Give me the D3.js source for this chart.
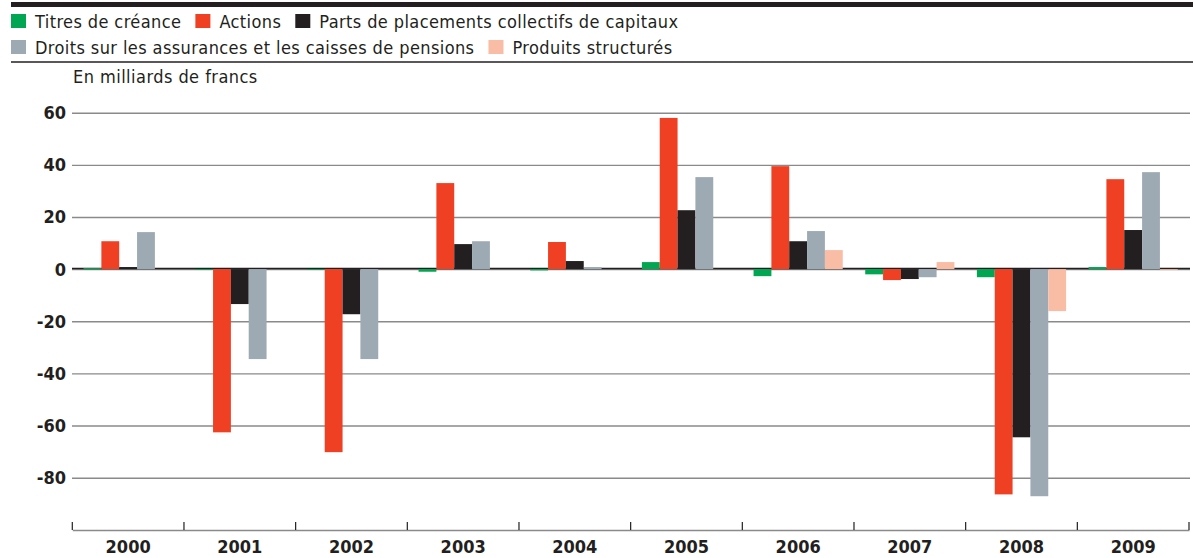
<!DOCTYPE html>
<html>
<head>
<meta charset="utf-8">
<script src="https://cdn.jsdelivr.net/npm/d3@7"></script>
<style>
  body { margin: 0; background: #fff; }
  text { font-family: "DejaVu Sans Condensed", "DejaVu Sans", sans-serif; font-stretch: condensed; fill: #231f20; }
  .lbl { letter-spacing: 0.4px; }
</style>
</head>
<body>
<svg id="chart"></svg>
<script>
// data (milliards de francs)
var years = ['2000', '2001', '2002', '2003', '2004', '2005', '2006', '2007', '2008', '2009'];
var seriesNames = ['Titres de créance', 'Actions', 'Parts de placements collectifs de capitaux',
  'Droits sur les assurances et les caisses de pensions', 'Produits structurés'];
var seriesColors = ['#00a651', '#ef4023', '#231f20', '#9eaab3', '#f9bca4'];
var titres = [0.4, -0.3, -0.3, -1.0, -0.5, 2.7, -2.7, -2.0, -3.1, 0.8];
var actions = [10.7, -62.6, -70.2, 33.0, 10.4, 58.0, 39.5, -4.2, -86.4, 34.5];
var parts = [0.8, -13.4, -17.3, 9.6, 3.1, 22.6, 10.7, -3.8, -64.5, 15.0];
var droits = [14.2, -34.5, -34.5, 10.7, 0.8, 35.3, 14.6, -3.1, -87.1, 37.2];
var produits = [0, 0, 0, 0, 0, 0, 7.3, 2.7, -16.1, -0.3];
var yTicks = [60, 40, 20, 0, -20, -40, -60, -80];
var legendRows = [[0, 1, 2], [3, 4]];

(function () {
  'use strict';
  var width = 1193,
    height = 558;

  var values = [titres, actions, parts, droits, produits];

  var svg = d3.select('#chart')
    .attr('width', width)
    .attr('height', height);

  // top rule
  svg.append('rect')
    .attr('x', 11).attr('y', 2)
    .attr('width', width - 11).attr('height', 5)
    .attr('fill', '#231f20');

  // legend
  legendRows.forEach(function (row, r) {
    var x = 11;
    var top = 14 + r * 26;
    row.forEach(function (i) {
      svg.append('rect')
        .attr('x', x).attr('y', top)
        .attr('width', 15).attr('height', 14)
        .attr('fill', seriesColors[i]);
      var t = svg.append('text')
        .attr('class', 'lbl')
        .attr('x', x + 24).attr('y', top + 14)
        .attr('font-size', 18)
        .text(seriesNames[i]);
      x += 24 + t.node().getComputedTextLength() + 14;
    });
  });

  svg.append('line')
    .attr('x1', 11).attr('x2', width)
    .attr('y1', 62).attr('y2', 62)
    .attr('stroke', '#231f20').attr('stroke-width', 1.3);

  svg.append('text')
    .attr('class', 'lbl')
    .attr('x', 73).attr('y', 83)
    .attr('font-size', 18)
    .style('letter-spacing', '0.45px')
    .text('En milliards de francs');

  // scales
  var x0 = d3.scaleBand()
    .domain(years)
    .range([72.3, 1189])
    .padding(0);

  var x1 = d3.scaleBand()
    .domain(d3.range(seriesNames.length))
    .range([0, x0.bandwidth()])
    .paddingInner(0)
    .paddingOuter(0.63);

  var y = d3.scaleLinear()
    .domain([-80, 60])
    .range([477.7, 112.7]);

  // grid
  var grid = svg.append('g');
  grid.selectAll('line')
    .data(yTicks)
    .enter().append('line')
    .attr('x1', 72).attr('x2', 1190)
    .attr('y1', function (d) { return y(d) + 0.5; })
    .attr('y2', function (d) { return y(d) + 0.5; })
    .attr('stroke', '#8a8a8a')
    .attr('stroke-width', 1.4);

  svg.append('line')
    .attr('x1', 72).attr('x2', 1190)
    .attr('y1', y(0) - 0.6).attr('y2', y(0) - 0.6)
    .attr('stroke', '#231f20')
    .attr('stroke-width', 1.4);

  grid.selectAll('text')
    .data(yTicks)
    .enter().append('text')
    .attr('x', 66)
    .attr('y', function (d) { return y(d); })
    .attr('dy', '0.36em')
    .attr('text-anchor', 'end')
    .attr('font-size', 18)
    .attr('font-weight', 'bold')
    .text(function (d) { return d; });

  // bars
  var groups = svg.selectAll('.year')
    .data(years)
    .enter().append('g')
    .attr('class', 'year')
    .attr('transform', function (d) { return 'translate(' + x0(d) + ',0)'; });

  groups.selectAll('rect')
    .data(function (d, j) {
      return values.map(function (s, i) { return { i: i, v: s[j] }; });
    })
    .enter().append('rect')
    .attr('x', function (d) { return x1(d.i); })
    .attr('width', x1.bandwidth())
    .attr('y', function (d) { return Math.min(y(d.v), y(0)); })
    .attr('height', function (d) { return Math.abs(y(d.v) - y(0)); })
    .attr('fill', function (d) { return seriesColors[d.i]; });

  // x axis
  var xAxis = d3.axisBottom(x0)
    .tickSize(0)
    .tickPadding(0);

  var axisG = svg.append('g')
    .attr('transform', 'translate(0,530)')
    .call(xAxis);
  axisG.select('.domain')
    .attr('stroke', '#8a8a8a')
    .attr('stroke-width', 1.6);
  axisG.selectAll('.tick text')
    .attr('y', 23)
    .attr('dy', 0)
    .attr('font-size', 18)
    .attr('font-weight', 'bold')
    .attr('font-family', null)
    .attr('fill', '#231f20');

  var bounds = years.map(function (d) { return x0(d); }).concat([x0.range()[1]]);
  svg.append('g').selectAll('line')
    .data(bounds)
    .enter().append('line')
    .attr('x1', function (d) { return d; })
    .attr('x2', function (d) { return d; })
    .attr('y1', 522).attr('y2', 530)
    .attr('stroke', '#231f20')
    .attr('stroke-width', 1.2);
})();
</script>
</body>
</html>
